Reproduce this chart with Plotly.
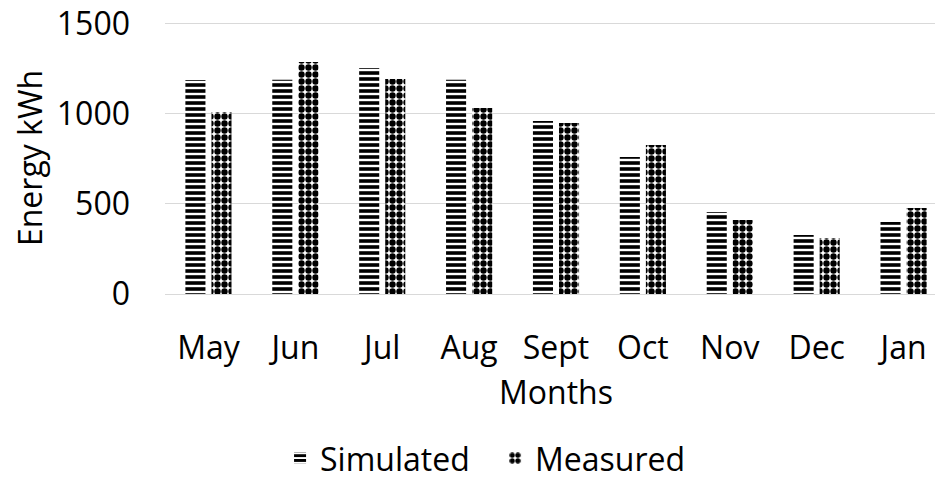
import plotly.graph_objects as go

months = ["May", "Jun", "Jul", "Aug", "Sept", "Oct", "Nov", "Dec", "Jan"]
simulated = [1189, 1190, 1256, 1190, 961, 761, 456, 328, 400]
measured = [1011, 1289, 1194, 1033, 950, 828, 411, 311, 478]
y_ticks = [0, 500, 1000, 1500]

FONT = "Open Sans"
FS = 32

fig = go.Figure()
fig.add_trace(go.Bar(
    name="Simulated", x=months, y=simulated,
    marker=dict(color="white", line=dict(width=0),
                pattern=dict(shape="-", fgcolor="black", bgcolor="white",
                             fgopacity=1, size=6, solidity=0.6,
                             fillmode="overlay")),
))
fig.add_trace(go.Bar(
    name="Measured", x=months, y=measured,
    marker=dict(color="white", line=dict(width=0),
                pattern=dict(shape=".", fgcolor="black", bgcolor="white",
                             fgopacity=1, size=7, solidity=0.65,
                             fillmode="overlay")),
))

fig.update_layout(
    width=943, height=479,
    paper_bgcolor="white", plot_bgcolor="white",
    margin=dict(l=157, r=4, t=14, b=193, autoexpand=False),
    barmode="group", bargap=0.4, bargroupgap=0.23,
    font=dict(family=FONT, size=FS, color="black"),
    showlegend=True,
    legend=dict(orientation="h", xref="container", yref="container",
                x=0.5165, xanchor="center", y=0.06, yanchor="middle",
                font=dict(size=FS), itemwidth=30, tracegroupgap=0,
                entrywidth=170, entrywidthmode="pixels"),
    xaxis=dict(showline=False, ticks="", tickfont=dict(size=FS),
               automargin=False, ticklabelstandoff=32,
               title=dict(text="Months", font=dict(size=FS), standoff=14)),
    yaxis=dict(range=[0, 1511], tickvals=y_ticks, showgrid=True,
               gridcolor="#d9d9d9", gridwidth=1, zeroline=True,
               zerolinecolor="#d9d9d9", zerolinewidth=1, showline=False,
               automargin=False, ticklabeloverflow="allow",
               ticks="", tickfont=dict(size=FS), ticklabelstandoff=34,
               title=dict(text="Energy kWh", font=dict(size=FS), standoff=24)),
)

fig.write_html("out.html")
